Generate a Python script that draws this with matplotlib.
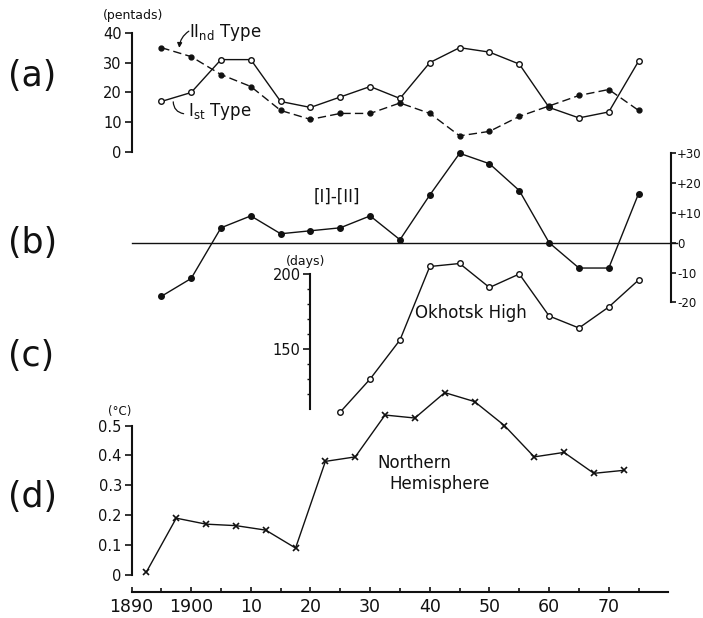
import matplotlib.pyplot as plt

# ---- data ----
years_ab = [1895, 1900, 1905, 1910, 1915, 1920, 1925, 1930, 1935,
            1940, 1945, 1950, 1955, 1960, 1965, 1970, 1975]
first_type = [17, 20, 31, 31, 17, 15, 18.5, 22, 18, 30, 35, 33.5, 29.5, 15, 11.5, 13.5, 30.5]
second_type = [35, 32, 26, 22, 14, 11, 13, 13, 16.5, 13, 5.5, 7, 12, 15.5, 19, 21, 14]
diff_types = [-18, -12, 5, 9, 3, 4, 5, 9, 1, 16, 30, 26.5, 17.5, 0, -8.5, -8.5, 16.5]

years_c = [1925, 1930, 1935, 1940, 1945, 1950, 1955, 1960, 1965, 1970, 1975]
okhotsk_days = [108, 130, 156, 205, 207, 191, 200, 172, 164, 178, 196]

years_d = [1892.5, 1897.5, 1902.5, 1907.5, 1912.5, 1917.5, 1922.5, 1927.5, 1932.5,
           1937.5, 1942.5, 1947.5, 1952.5, 1957.5, 1962.5, 1967.5, 1972.5]
nh_temp = [0.01, 0.19, 0.17, 0.165, 0.15, 0.09, 0.38, 0.395, 0.535,
           0.525, 0.61, 0.58, 0.50, 0.395, 0.41, 0.34, 0.35]

year_ticks = [1890, 1900, 1910, 1920, 1930, 1940, 1950, 1960, 1970]
year_labels = ['1890', '1900', '10', '20', '30', '40', '50', '60', '70']
minor_year_ticks = [1895, 1905, 1915, 1925, 1935, 1945, 1955, 1965, 1975]

# ---- layout (pixels) ----
W, H = 703, 618
LEFT = 131.5
X0, X1 = 1890, 1980.4
WIDTH = (X1 - X0) * 5.966

fig = plt.figure(figsize=(W / 100, H / 100), dpi=100)
plt.rcParams['font.family'] = 'DejaVu Sans'
K = '#111111'
LW = 1.0
SPW = 1.5


def px_axes(top, bottom):
    ax = fig.add_axes([LEFT / W, 1 - bottom / H, WIDTH / W, (bottom - top) / H])
    ax.set_xlim(X0, X1)
    ax.patch.set_visible(False)
    for s in ['top', 'right', 'bottom', 'left']:
        ax.spines[s].set_visible(False)
        ax.spines[s].set_linewidth(SPW)
        ax.spines[s].set_color(K)
    ax.set_xticks([])
    ax.tick_params(axis='y', direction='out', length=5, width=1.2, color=K,
                   labelsize=10.5, pad=2, labelcolor=K)
    return ax


# (a) pentads
ax_a = px_axes(32.7, 152.3)
ax_a.set_ylim(0, 40)
ax_a.spines['left'].set_visible(True)
ax_a.set_yticks([0, 10, 20, 30, 40])
ax_a.plot(years_ab, first_type, '-o', color=K, lw=LW, ms=4, mfc='white', mec=K, mew=1.0, clip_on=False)
ax_a.plot(years_ab, second_type, 'o', ls=(0, (6, 3)), color=K, lw=LW, ms=3.5, mfc=K, mec=K, clip_on=False)
ax_a.text(1890.3, 45.8, '(pentads)', fontsize=9, ha='center', va='center', color=K)
ax_a.text(1899.6, 39.9, r'II$_{\mathrm{nd}}$ Type', fontsize=12, ha='left', va='center', color=K)
ax_a.text(1899.4, 13.6, r'I$_{\mathrm{st}}$ Type', fontsize=12, ha='left', va='center', color=K)
ax_a.annotate('', xy=(1898.0, 34.0), xytext=(1900.0, 41.0),
              arrowprops=dict(arrowstyle='-|>', color=K, lw=0.9, mutation_scale=7,
                              connectionstyle='arc3,rad=0.3'))
ax_a.annotate('', xy=(1897.0, 17.8), xytext=(1899.2, 12.8),
              arrowprops=dict(arrowstyle='-', color=K, lw=0.9,
                              connectionstyle='arc3,rad=-0.5'))

# (b) difference
ax_b = px_axes(153.3, 302.3)
ax_b.set_ylim(-20, 30)
ax_b.spines['right'].set_visible(True)
ax_b.yaxis.tick_right()
ax_b.set_yticks([-20, -10, 0, 10, 20, 30])
ax_b.set_yticklabels(['-20', '-10', '0', '+10', '+20', '+30'])
ax_b.tick_params(axis='y', length=3.5, labelsize=8.5, pad=1)
ax_b.axhline(0, xmin=0, xmax=1.012, color=K, lw=1.0, clip_on=False)
ax_b.plot(years_ab, diff_types, '-o', color=K, lw=LW, ms=4, mfc=K, mec=K, clip_on=False)
ax_b.text(1924.4, 15.3, '[I]-[II]', fontsize=12, ha='center', va='center', color=K)

# (c) Okhotsk High days
ax_c = px_axes(274, 409)
ax_c.set_ylim(110, 200)
ax_c.spines['left'].set_visible(True)
ax_c.spines['left'].set_position(('data', 1920))
ax_c.set_yticks([150, 200])
ax_c.set_yticks(range(120, 200, 10), minor=True)
ax_c.tick_params(axis='y', which='minor', direction='out', length=2.5, width=1.0, color=K)
ax_c.plot(years_c, okhotsk_days, '-o', color=K, lw=LW, ms=4, mfc='white', mec=K, mew=1.0, clip_on=False)
ax_c.text(1919.2, 208, '(days)', fontsize=9, ha='center', va='center', color=K)
ax_c.text(1946.9, 174, 'Okhotsk High', fontsize=12, ha='center', va='center', color=K)

# (d) Northern Hemisphere temperature + year axis
ax_d = px_axes(425.5, 592.3)
ax_d.set_ylim(-0.058, 0.5)
ax_d.spines['left'].set_visible(True)
ax_d.spines['left'].set_bounds(0, 0.5)
ax_d.spines['bottom'].set_visible(True)
ax_d.spines['bottom'].set_bounds(1890, 1980)
ax_d.set_yticks([0, 0.1, 0.2, 0.3, 0.4, 0.5])
ax_d.set_yticklabels(['0', '0.1', '0.2', '0.3', '0.4', '0.5'])
ax_d.set_xticks(year_ticks)
ax_d.set_xticklabels(year_labels)
ax_d.set_xticks(minor_year_ticks, minor=True)
ax_d.tick_params(axis='x', which='major', direction='in', length=3.5, width=1.2,
                 color=K, labelsize=12.5, pad=4, labelcolor=K)
ax_d.tick_params(axis='x', which='minor', direction='in', length=3, width=1.2, color=K)
ax_d.plot(years_d, nh_temp, '-x', color=K, lw=LW, ms=4.5, mew=1.2, clip_on=False)
ax_d.text(1888.0, 0.548, '(°C)', fontsize=8.5, ha='center', va='center', color=K)
ax_d.text(1937.4, 0.375, 'Northern', fontsize=12, ha='center', va='center', color=K)
ax_d.text(1941.7, 0.304, 'Hemisphere', fontsize=12, ha='center', va='center', color=K)

# panel letters
for lab, y in [('(a)', 76), ('(b)', 243), ('(c)', 356), ('(d)', 497)]:
    fig.text(8 / W, 1 - y / H, lab, fontsize=25, ha='left', va='center', color=K)

fig.savefig('out.png', dpi=100, facecolor='white')
